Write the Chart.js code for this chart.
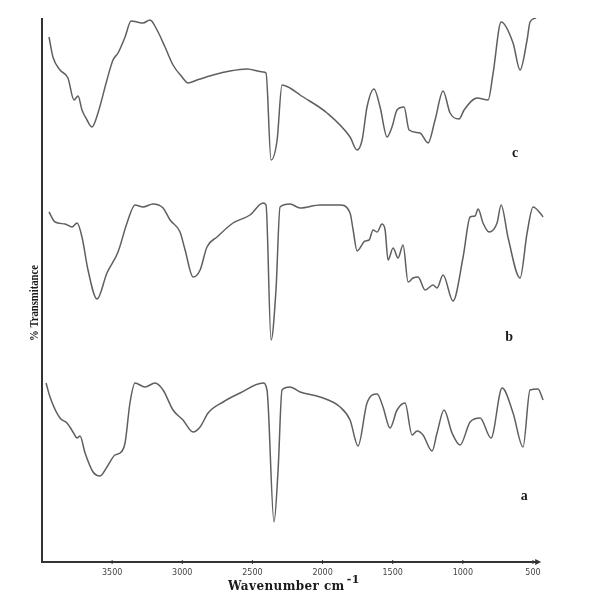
<!DOCTYPE html>
<html>
<head>
<meta charset="utf-8">
<script src="https://cdn.jsdelivr.net/npm/chart.js@4"></script>
<style>
  body { margin: 0; background: #fff; }
  #wrap { width: 601px; height: 613px; }
</style>
</head>
<body>
<div id="wrap"><canvas id="ftirChart" width="601" height="613"></canvas></div>
<script>
// FTIR spectra, wavenumber in cm-1, transmittance in offset arbitrary units
const cWave = [3950, 3922, 3872, 3815, 3772, 3743, 3715, 3679, 3644, 3601, 3537, 3494, 3458, 3408, 3365, 3323, 3280, 3230, 3180, 3123, 3066, 3002, 2959, 2895, 2781, 2660, 2538, 2424, 2403, 2367, 2324, 2289, 2232, 2160, 1968, 1804, 1754, 1718, 1683, 1633, 1590, 1540, 1505, 1469, 1419, 1383, 1305, 1248, 1198, 1141, 1091, 1027, 991, 898, 820, 784, 727, 642, 592, 542, 521, 478];
const cT = [525, 505, 492, 484, 462, 466, 452, 442, 435, 449, 482, 502, 509, 525, 541, 540, 539, 542, 532, 515, 497, 485, 479, 482, 487, 491, 493, 490, 489, 402, 422, 477, 474, 467, 449, 425, 412, 422, 455, 473, 455, 425, 435, 452, 455, 432, 429, 419, 442, 471, 449, 443, 452, 464, 462, 489, 540, 519, 492, 522, 540, 544];

const bWave = [3950, 3907, 3836, 3786, 3750, 3715, 3672, 3608, 3537, 3458, 3394, 3337, 3280, 3209, 3137, 3087, 3016, 2980, 2923, 2873, 2824, 2752, 2638, 2517, 2424, 2403, 2367, 2332, 2303, 2232, 2160, 2018, 1875, 1804, 1782, 1754, 1697, 1668, 1640, 1611, 1576, 1554, 1533, 1497, 1462, 1426, 1390, 1355, 1319, 1269, 1212, 1184, 1141, 1070, 998, 948, 913, 891, 856, 813, 756, 727, 677, 592, 542, 499, 449, 428];
const bT = [350, 340, 338, 335, 339, 325, 292, 263, 289, 310, 339, 357, 355, 358, 354, 342, 330, 312, 285, 292, 315, 325, 339, 347, 359, 357, 222, 272, 355, 358, 354, 357, 357, 349, 332, 311, 321, 322, 332, 330, 338, 332, 302, 314, 304, 317, 280, 284, 285, 272, 277, 274, 287, 261, 305, 345, 346, 353, 339, 330, 339, 357, 324, 284, 329, 355, 349, 345];

const aWave = [3971, 3943, 3872, 3822, 3779, 3750, 3729, 3693, 3636, 3586, 3537, 3480, 3444, 3408, 3373, 3337, 3266, 3194, 3137, 3066, 2995, 2923, 2873, 2816, 2709, 2588, 2424, 2396, 2346, 2317, 2289, 2232, 2160, 2018, 1875, 1804, 1747, 1683, 1611, 1569, 1519, 1469, 1412, 1362, 1326, 1284, 1219, 1184, 1134, 1077, 1020, 948, 877, 799, 720, 642, 571, 521, 464, 428];
const aT = [179, 165, 144, 139, 130, 124, 126, 109, 90, 86, 95, 107, 109, 119, 159, 179, 175, 179, 172, 152, 142, 130, 135, 149, 160, 169, 179, 172, 40, 92, 172, 175, 170, 165, 155, 142, 116, 159, 168, 155, 134, 152, 159, 127, 131, 127, 111, 129, 152, 129, 117, 140, 144, 124, 174, 149, 115, 172, 173, 162];

const seriesLabels = ["c", "b", "a"];
const labelWave = [627, 670, 563];
const labelT = [409, 225, 66];

const xTicks = [3500, 3000, 2500, 2000, 1500, 1000, 500];
const xTitle = "Wavenumber cm";
const yTitle = "% Transmitance";

const toPoints = (xs, ys) => xs.map((x, i) => ({ x: x, y: ys[i] }));

const lineStyle = {
  borderColor: "rgb(95, 95, 95)",
  borderWidth: 1.5,
  pointRadius: 0,
  fill: false,
  cubicInterpolationMode: "monotone",
};

// axes, ticks, titles and curve letters drawn by hand to match the scanned figure
const figurePlugin = {
  id: "figure",
  afterDraw(chart) {
    const ctx = chart.ctx;
    const xs = chart.scales.x;
    const ys = chart.scales.y;
    const area = chart.chartArea;
    const left = area.left;
    const bottom = area.bottom;
    const axisEnd = xs.getPixelForValue(470);

    ctx.save();
    ctx.strokeStyle = "#333";
    ctx.lineWidth = 2;
    ctx.beginPath();
    ctx.moveTo(left, area.top);
    ctx.lineTo(left, bottom);
    ctx.lineTo(axisEnd, bottom);
    ctx.stroke();

    ctx.fillStyle = "#333";
    ctx.beginPath();
    ctx.moveTo(axisEnd + 4, bottom);
    ctx.lineTo(axisEnd - 2, bottom - 3);
    ctx.lineTo(axisEnd - 2, bottom + 3);
    ctx.closePath();
    ctx.fill();

    ctx.lineWidth = 1;
    ctx.font = "8px 'DejaVu Sans'";
    ctx.fillStyle = "#444";
    ctx.textAlign = "center";
    ctx.textBaseline = "middle";
    xTicks.forEach((t) => {
      const px = xs.getPixelForValue(t);
      ctx.beginPath();
      ctx.moveTo(px, bottom - 2);
      ctx.lineTo(px, bottom + 2);
      ctx.stroke();
      ctx.fillText(String(t), px, bottom + 11);
    });

    ctx.fillStyle = "#1a1a1a";
    ctx.font = "bold 12px 'DejaVu Serif'";
    ctx.textAlign = "left";
    ctx.textBaseline = "alphabetic";
    if ("letterSpacing" in ctx) ctx.letterSpacing = "0.4px";
    ctx.fillText(xTitle, 228, 590);
    const w = ctx.measureText(xTitle).width;
    ctx.font = "bold 11px 'DejaVu Serif'";
    ctx.fillText("-1", 228 + w + 2, 583);
    if ("letterSpacing" in ctx) ctx.letterSpacing = "0px";

    ctx.translate(35, 303);
    ctx.rotate(-Math.PI / 2);
    ctx.scale(0.82, 1);
    ctx.textAlign = "center";
    ctx.textBaseline = "middle";
    ctx.font = "bold 13px 'Liberation Serif'";
    ctx.fillText(yTitle, 0, 0);
    ctx.setTransform(1, 0, 0, 1, 0, 0);

    ctx.font = "bold 14px 'Liberation Serif'";
    ctx.textAlign = "center";
    ctx.textBaseline = "middle";
    seriesLabels.forEach((s, i) => {
      ctx.fillText(s, xs.getPixelForValue(labelWave[i]), ys.getPixelForValue(labelT[i]));
    });
    ctx.restore();
  },
};

new Chart(document.getElementById("ftirChart").getContext("2d"), {
  type: "line",
  data: {
    datasets: [
      { ...lineStyle, label: "c", data: toPoints(cWave, cT) },
      { ...lineStyle, label: "b", data: toPoints(bWave, bT) },
      { ...lineStyle, label: "a", data: toPoints(aWave, aT) },
    ],
  },
  options: {
    responsive: false,
    animation: false,
    layout: { padding: { left: 42, right: 54, top: 18, bottom: 51 } },
    plugins: { legend: { display: false }, tooltip: { enabled: false } },
    scales: {
      x: { type: "linear", reverse: true, min: 400, max: 4000, display: false },
      y: { type: "linear", min: 0, max: 544, display: false },
    },
  },
  plugins: [figurePlugin],
});
</script>
</body>
</html>
